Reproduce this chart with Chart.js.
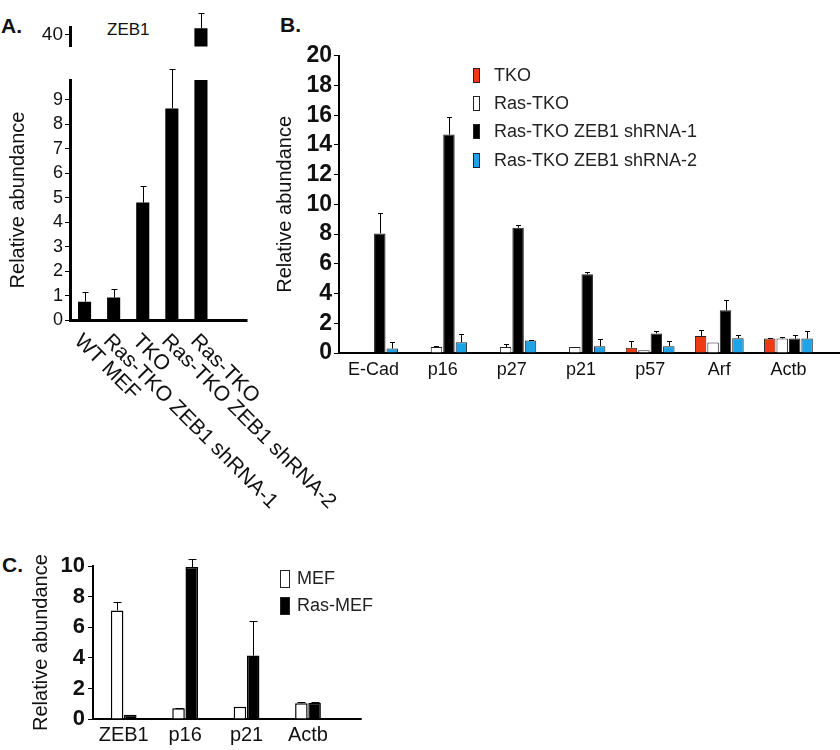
<!DOCTYPE html>
<html>
<head>
<meta charset="utf-8">
<script src="https://cdn.jsdelivr.net/npm/chart.js@4.4.1/dist/chart.umd.min.js"></script>
<style>
    body { margin: 0; background: #fff; width: 840px; height: 750px; position: relative; overflow: hidden;
           font-family: "Liberation Sans", Arial, sans-serif; color: #111; }
    canvas, .txt { position: absolute; }
    .panel { font-weight: bold; font-size: 21px; line-height: 21px; }
    .legend { position: absolute; font-size: 18px; color: #222; }
    .legend .row { display: flex; align-items: center; white-space: nowrap; }
    .legend .box { display: inline-block; border: 1px solid #222; box-sizing: border-box; }
</style>
</head>
<body>

<div class="txt panel" style="left:1px;top:15px">A.</div>
<div class="txt panel" style="left:280px;top:14px">B.</div>
<div class="txt panel" style="left:2px;top:554px">C.</div>
<div class="txt" style="left:107px;top:21px;font-size:17px;line-height:17px">ZEB1</div>

<canvas id="zebTop" width="360" height="60" style="left:0;top:0"></canvas>
<canvas id="zebChart" width="360" height="470" style="left:0;top:60px"></canvas>
<canvas id="cdkiChart" width="580" height="360" style="left:260px;top:40px"></canvas>
<canvas id="mefChart" width="400" height="200" style="left:0;top:550px"></canvas>

<div id="cdkiLegend" class="legend" style="left:473px;top:61px"></div>
<div id="mefLegend" class="legend" style="left:280px;top:565px"></div>

<script>

// =====================
// DATA
// =====================

// A. ZEB1 (broken axis)
const ZEB_LABELS = ["WT MEF", "Ras-TKO ZEB1 shRNA-1", "TKO", "Ras-TKO ZEB1 shRNA-2", "Ras-TKO"];
const ZEB_VALUES = [0.75, 0.92, 4.8, 8.65, 42];
const ZEB_ERRORS = [0.4, 0.36, 0.68, 1.6, 4.7];
const ZEB_LOW_TICKS = [0, 1, 2, 3, 4, 5, 6, 7, 8, 9];
const ZEB_HIGH_TICKS = [40];

// B. targets in TKO lines
const GENES_B = ["E-Cad", "p16", "p27", "p21", "p57", "Arf", "Actb"];
const TKO = [0, 0, 0, 0, 0.36, 1.15, 0.97];
const TKO_ERR = [0, 0, 0, 0, 0.44, 0.42, 0.05];
const RAS_TKO = [0, 0.4, 0.4, 0.4, 0.18, 0.7, 0.97];
const RAS_TKO_ERR = [0, 0.05, 0.2, 0, 0, 0, 0.12];
const SH1 = [8.05, 14.7, 8.43, 5.3, 1.32, 2.87, 0.97];
const SH1_ERR = [1.35, 1.2, 0.17, 0.12, 0.18, 0.73, 0.22];
const SH2 = [0.3, 0.73, 0.84, 0.46, 0.46, 0.99, 0.97];
const SH2_ERR = [0.45, 0.55, 0.06, 0.49, 0.34, 0.23, 0.53];
const TICKS_B = [0, 2, 4, 6, 8, 10, 12, 14, 16, 18, 20];

// C. MEF vs Ras-MEF
const GENES_C = ["ZEB1", "p16", "p21", "Actb"];
const MEF = [7.1, 0.7, 0.8, 1.03];
const MEF_ERR = [0.55, 0.05, 0, 0.07];
const RAS_MEF = [0.28, 9.95, 4.15, 1.07];
const RAS_MEF_ERR = [0, 0.5, 2.25, 0.05];
const TICKS_C = [0, 2, 4, 6, 8, 10];


Chart.defaults.font.family = '"Liberation Sans", Arial, sans-serif';
Chart.defaults.color = '#111';
Chart.defaults.animation = false;


// =====================
// PLUGINS
// =====================

// upward error bars with a small cap
const errorBars = {
    id: 'errorBars',
    afterDatasetsDraw(chart, args, opts) {
        const ctx = chart.ctx;
        const y = chart.scales.y;
        ctx.save();
        ctx.strokeStyle = '#000';
        ctx.lineWidth = 1;
        chart.data.datasets.forEach((ds, di) => {
            if (!ds.errors) return;
            chart.getDatasetMeta(di).data.forEach((bar, i) => {
                const v = ds.data[i], e = ds.errors[i];
                if (!e || v < y.min || v > y.max) return;
                const top = Math.round(y.getPixelForValue(v + e)) + 0.5;
                const x = Math.round(bar.x) + 0.5;
                ctx.beginPath();
                ctx.moveTo(x, bar.y);
                ctx.lineTo(x, top);
                ctx.moveTo(x - opts.cap / 2, top);
                ctx.lineTo(x + opts.cap / 2, top);
                ctx.stroke();
            });
        });
        ctx.restore();
    }
};

// baseline runs on past the last category
const axisExtend = {
    id: 'axisExtend',
    afterDraw(chart, args, opts) {
        if (!opts.length) return;
        const { ctx, chartArea } = chart;
        const yb = Math.round(chartArea.bottom) + (opts.width % 2 ? 0.5 : 0);
        ctx.save();
        ctx.strokeStyle = '#000';
        ctx.lineWidth = opts.width;
        ctx.beginPath();
        ctx.moveTo(chartArea.right - 1, yb);
        ctx.lineTo(chartArea.right + opts.length, yb);
        ctx.stroke();
        ctx.restore();
    }
};

// category labels slanted down to the right
const slantLabels = {
    id: 'slantLabels',
    afterDraw(chart) {
        const { ctx, chartArea } = chart;
        const xs = chart.scales.x;
        ctx.save();
        ctx.font = '21px "Liberation Sans", Arial, sans-serif';
        ctx.fillStyle = '#111';
        ctx.textAlign = 'left';
        ctx.textBaseline = 'middle';
        chart.data.labels.forEach((lab, i) => {
            ctx.save();
            ctx.translate(xs.getPixelForTick(i) - 7, chartArea.bottom + 18);
            ctx.rotate(Math.PI / 4);
            ctx.fillText(lab, 0, 0);
            ctx.restore();
        });
        ctx.restore();
    }
};

function fixedTicks(list) {
    return function (scale) {
        scale.ticks = list.map(v => ({ value: v }));
    };
}

function buildLegend(id, datasets, boxW, boxH, gap, rowH) {
    const el = document.getElementById(id);
    datasets.forEach(ds => {
        const row = document.createElement('div');
        row.className = 'row';
        row.style.height = rowH + 'px';
        const box = document.createElement('span');
        box.className = 'box';
        box.style.width = boxW + 'px';
        box.style.height = boxH + 'px';
        box.style.background = ds.backgroundColor;
        box.style.marginRight = gap + 'px';
        const t = document.createElement('span');
        t.textContent = ds.label;
        row.append(box, t);
        el.appendChild(row);
    });
}


// =====================
// A. ZEB1
// =====================

function zebDataset() {
    return {
        data: ZEB_VALUES,
        errors: ZEB_ERRORS,
        backgroundColor: '#000',
        barPercentage: 0.45,
        categoryPercentage: 1
    };
}

const zebTopSet = zebDataset();
zebTopSet.clip = { left: 0, top: false, right: 0, bottom: 0 };

new Chart(document.getElementById('zebTop'), {
    type: 'bar',
    data: { labels: ZEB_LABELS, datasets: [zebTopSet] },
    options: {
        responsive: false,
        layout: { padding: { top: 27, right: 144.5, bottom: 0, left: 0 } },
        plugins: { legend: { display: false }, tooltip: { enabled: false }, errorBars: { cap: 6 } },
        scales: {
            x: { display: false },
            y: {
                min: 36.4, max: 42.4,
                afterBuildTicks: fixedTicks(ZEB_HIGH_TICKS),
                ticks: { font: { size: 19 }, color: '#111', padding: 2 },
                grid: { drawOnChartArea: false, tickLength: 5, color: '#000' },
                border: { color: '#000', width: 3 },
                afterFit: s => { s.width = 70; }
            }
        }
    },
    plugins: [errorBars]
});

new Chart(document.getElementById('zebChart'), {
    type: 'bar',
    data: { labels: ZEB_LABELS, datasets: [zebDataset()] },
    options: {
        responsive: false,
        layout: { padding: { top: 20, right: 144.5, bottom: 210, left: 0 } },
        plugins: {
            legend: { display: false }, tooltip: { enabled: false },
            errorBars: { cap: 6 },
            axisExtend: { length: 32, width: 3 }
        },
        scales: {
            x: {
                grid: { display: false },
                ticks: { display: false },
                border: { color: '#000', width: 3 },
                afterFit: s => { s.height = 0; }
            },
            y: {
                min: 0, max: 9.81,
                afterBuildTicks: fixedTicks(ZEB_LOW_TICKS),
                ticks: { font: { size: 18 }, color: '#111', padding: 2, autoSkip: false },
                grid: { drawOnChartArea: false, tickLength: 5, color: '#000' },
                border: { color: '#000', width: 3 },
                title: { display: true, text: 'Relative abundance', font: { size: 20 }, color: '#111', padding: { top: 6, bottom: 0 } },
                afterFit: s => { s.width = 70; }
            }
        }
    },
    plugins: [errorBars, axisExtend, slantLabels]
});


// =====================
// B. TKO targets
// =====================

function seriesB(label, data, errors, color) {
    return {
        label: label,
        data: data,
        errors: errors,
        backgroundColor: color,
        borderColor: '#222',
        borderWidth: 1,
        barPercentage: 0.92,
        categoryPercentage: 0.72
    };
}

const cdkiSets = [
    seriesB('TKO', TKO, TKO_ERR, '#ee3b14'),
    seriesB('Ras-TKO', RAS_TKO, RAS_TKO_ERR, '#ffffff'),
    seriesB('Ras-TKO ZEB1 shRNA-1', SH1, SH1_ERR, '#000000'),
    seriesB('Ras-TKO ZEB1 shRNA-2', SH2, SH2_ERR, '#1fa3e8')
];

new Chart(document.getElementById('cdkiChart'), {
    type: 'bar',
    data: { labels: GENES_B, datasets: cdkiSets },
    options: {
        responsive: false,
        layout: { padding: { top: 13, right: 17, bottom: 0, left: 0 } },
        plugins: {
            legend: { display: false }, tooltip: { enabled: false },
            errorBars: { cap: 5 },
            axisExtend: { length: 17, width: 2 }
        },
        scales: {
            x: {
                grid: { display: false },
                border: { color: '#000', width: 2 },
                ticks: { font: { size: 18 }, color: '#111', padding: -2, maxRotation: 0 },
                afterFit: s => { s.height = 47; }
            },
            y: {
                min: 0, max: 20,
                afterBuildTicks: fixedTicks(TICKS_B),
                ticks: { font: { size: 23, weight: 'bold' }, color: '#111', padding: 2, autoSkip: false },
                grid: { drawOnChartArea: false, tickLength: 5, color: '#000' },
                border: { color: '#000', width: 2 },
                title: { display: true, text: 'Relative abundance', font: { size: 20 }, color: '#111', padding: { top: 13, bottom: 0 } },
                afterFit: s => { s.width = 79; }
            }
        }
    },
    plugins: [errorBars, axisExtend]
});

buildLegend('cdkiLegend', cdkiSets, 7, 15, 14, 28.4);


// =====================
// C. MEF / Ras-MEF
// =====================

const mefSets = [
    { label: 'MEF', data: MEF, errors: MEF_ERR, backgroundColor: '#ffffff', borderColor: '#000', borderWidth: 1.5,
      barPercentage: 0.95, categoryPercentage: 0.43 },
    { label: 'Ras-MEF', data: RAS_MEF, errors: RAS_MEF_ERR, backgroundColor: '#000000', borderColor: '#000', borderWidth: 1.5,
      barPercentage: 0.95, categoryPercentage: 0.43 }
];

new Chart(document.getElementById('mefChart'), {
    type: 'bar',
    data: { labels: GENES_C, datasets: mefSets },
    options: {
        responsive: false,
        layout: { padding: { top: 14, right: 61.3, bottom: 0, left: 0 } },
        plugins: {
            legend: { display: false }, tooltip: { enabled: false },
            errorBars: { cap: 8 },
            axisExtend: { length: 23, width: 2 }
        },
        scales: {
            x: {
                grid: { display: false },
                border: { color: '#000', width: 2 },
                ticks: { font: { size: 20 }, color: '#111', padding: -4, maxRotation: 0 },
                afterFit: s => { s.height = 31; }
            },
            y: {
                min: 0, max: 10,
                afterBuildTicks: fixedTicks(TICKS_C),
                ticks: { font: { size: 22, weight: 'bold' }, color: '#111', padding: 3, autoSkip: false },
                grid: { drawOnChartArea: false, tickLength: 5, color: '#000' },
                border: { color: '#000', width: 2 },
                title: { display: true, text: 'Relative abundance', font: { size: 20 }, color: '#111', padding: { top: 29, bottom: 0 } },
                afterFit: s => { s.width = 93; }
            }
        }
    },
    plugins: [errorBars, axisExtend]
});

buildLegend('mefLegend', mefSets, 10, 18, 7, 27);

</script>
</body>
</html>
